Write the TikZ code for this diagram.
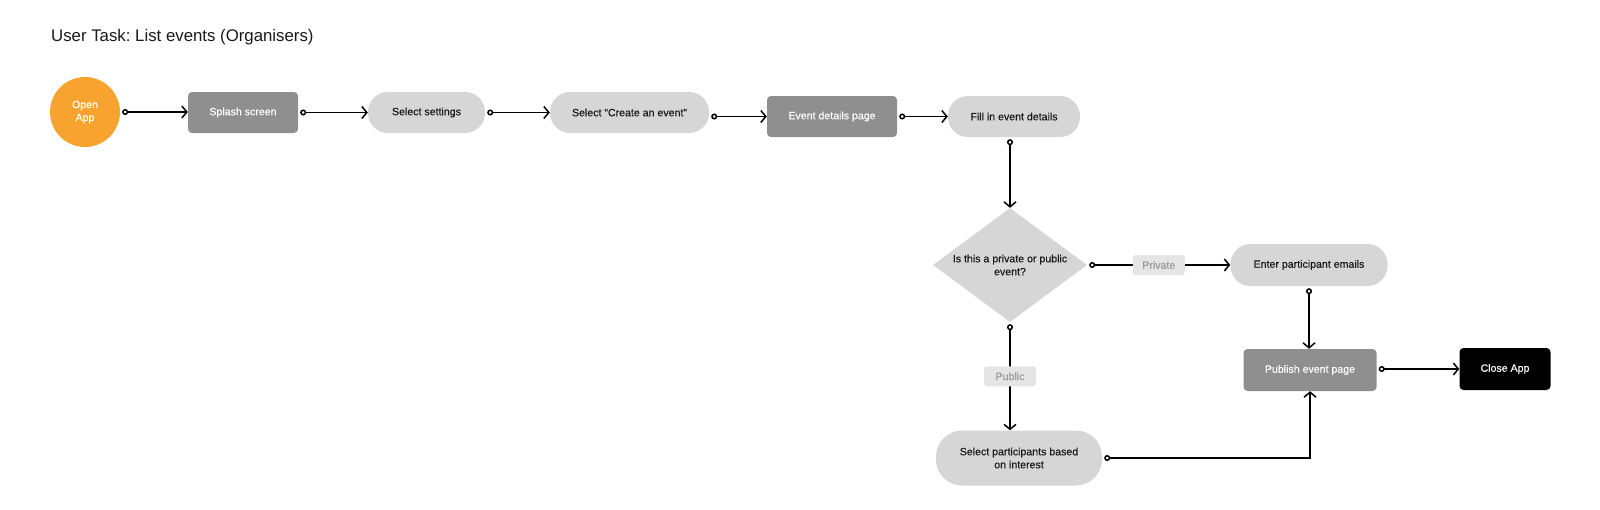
\documentclass[tikz,border=0pt]{standalone}
\usepackage{fontspec}
\setmainfont{Liberation Sans}
\newfontfamily\nodefont[FakeBold=0.35]{Liberation Sans}
\frenchspacing
\usetikzlibrary{arrows.meta,shapes.geometric}
\definecolor{orangeC}{RGB}{248,163,48}
\definecolor{darkG}{RGB}{143,143,143}
\definecolor{lightG}{RGB}{214,214,214}
\definecolor{labG}{RGB}{229,229,229}
\definecolor{labT}{RGB}{155,155,155}
\definecolor{txt}{RGB}{25,25,25}
\tikzset{
  nf/.style={font=\nodefont\fontsize{10.6}{13}\selectfont, align=center, inner sep=0pt},
  startc/.style={nf, circle, fill=orangeC, text=white, minimum size=70pt},
  darkbox/.style={nf, rectangle, rounded corners=4pt, fill=darkG, text=white},
  blackbox/.style={nf, rectangle, rounded corners=4pt, fill=black, text=white},
  pill/.style={nf, rectangle, rounded corners=20pt, fill=lightG, text=txt},
  decision/.style={nf, diamond, fill=lightG, text=txt, minimum width=154pt, minimum height=114pt},
  lab/.style={nf, rectangle, rounded corners=3pt, fill=labG, text=labT, minimum width=52pt, minimum height=20pt},
  conn/.style={line width=1.5pt, shorten <=2pt, {Circle[open,length=6pt]}-{Straight Barb[length=5pt,width=12pt]}},
}
\begin{document}
\begin{tikzpicture}[x=1pt,y=-1pt]
\useasboundingbox (0,0) rectangle (1600,509);
\node[anchor=base west, font=\fontsize{16.8}{20}\selectfont, text=txt, inner sep=0pt] (title) at (51,41) {User Task: List events (Organisers)};

\node[startc] (open) at (85,112) {Open\\App};
\node[darkbox, minimum width=110pt, minimum height=41pt] (splash) at (243,112.5) {Splash screen};
\node[pill, minimum width=117pt, minimum height=41pt] (settings) at (426.5,112.5) {Select settings};
\node[pill, minimum width=159pt, minimum height=41pt] (create) at (629.5,112.5) {Select “Create an event”};
\node[darkbox, minimum width=130pt, minimum height=41pt] (details) at (832,116.5) {Event details page};
\node[pill, minimum width=132pt, minimum height=41pt] (fill) at (1014,116.5) {Fill in event details};
\node[decision, label={[nf, text=txt]center:Is this a private or public\\event?}] (dec) at (1010,265) {};
\node[pill, minimum width=157pt, minimum height=42pt] (enter) at (1309,265) {Enter participant emails};
\node[darkbox, minimum width=133pt, minimum height=42pt] (publish) at (1310,370) {Publish event page};
\node[blackbox, minimum width=91pt, minimum height=42pt] (close) at (1505,369) {Close App};
\node[pill, rounded corners=26pt, minimum width=166pt, minimum height=55pt] (parts) at (1019,458) {Select participants based\\on interest};

\draw[conn] (open.east) -- (splash.west |- open.east);
\draw[conn] (splash.east) -- (settings.west);
\draw[conn] (settings.east) -- (create.west);
\draw[conn] (create.east |- details.west) -- (details.west);
\draw[conn] (details.east) -- (fill.west);
\draw[conn] (fill.south -| dec.north) -- (dec.north);
\draw[conn] (dec.east) -- node[lab] (priv) {Private} (enter.west);
\draw[conn] (dec.south) -- node[lab] (pub) {Public} (dec.south |- parts.north);
\draw[conn] (enter.south) -- (enter.south |- publish.north);
\draw[conn] (parts.east) -| (publish.south);
\draw[conn] (publish.east |- close.west) -- (close.west);
\end{tikzpicture}
\end{document}
